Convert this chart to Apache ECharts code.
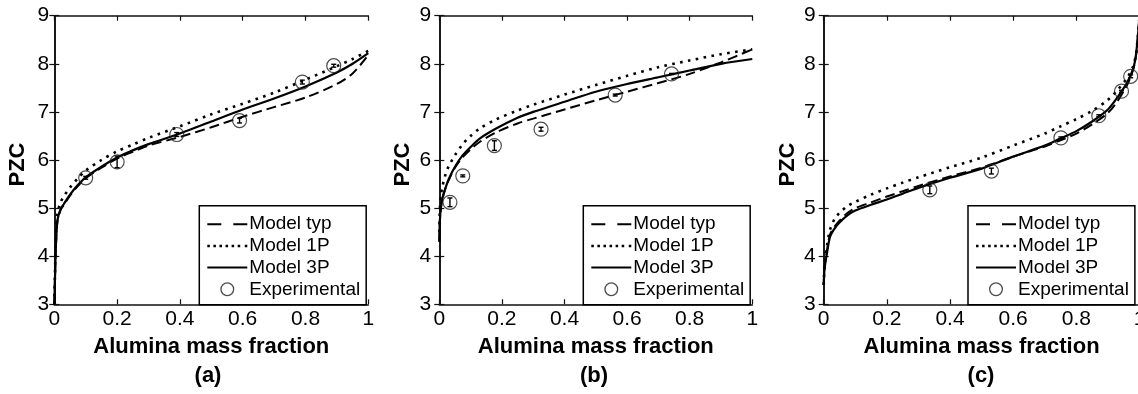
<!DOCTYPE html>
<html><head><meta charset="utf-8">
<script src="https://cdn.jsdelivr.net/npm/echarts@6/dist/echarts.min.js"></script>
<style>html,body{margin:0;padding:0;background:#fff}#c{width:1138px;height:394px}</style>
</head><body><div id="c"></div>
<script>
// ---------- DATA ----------
const xTickInterval = 0.2;
const yMin = 3, yMax = 9;
const panelLabels = ['(a)', '(b)', '(c)'];
const seriesNames = ['Model typ', 'Model 1P', 'Model 3P', 'Experimental'];

// Panel (a)
const a_x   = [0, 0.002, 0.005, 0.01, 0.02, 0.03, 0.05, 0.075, 0.1, 0.15, 0.2, 0.25, 0.3, 0.4, 0.5, 0.6, 0.7, 0.8, 0.9, 0.95, 1.0];
const a_typ = [3.0, 3.5, 4.2, 4.72, 4.96, 5.06, 5.26, 5.46, 5.62, 5.84, 6.03, 6.17, 6.3, 6.48, 6.68, 6.9, 7.1, 7.3, 7.58, 7.8, 8.18];
const a_1p  = [3.0, 3.6, 4.35, 4.88, 5.12, 5.24, 5.43, 5.62, 5.78, 6.0, 6.18, 6.32, 6.46, 6.7, 6.95, 7.17, 7.4, 7.67, 7.95, 8.1, 8.27];
const a_3p  = [3.0, 3.5, 4.2, 4.75, 4.98, 5.08, 5.28, 5.48, 5.64, 5.86, 6.05, 6.2, 6.33, 6.55, 6.8, 7.05, 7.28, 7.53, 7.82, 8.0, 8.22];
const a_expX = [0.1, 0.2, 0.39, 0.59, 0.79, 0.89];
const a_expY = [5.63, 5.96, 6.53, 6.82, 7.62, 7.96];
const a_expE = [0.03, 0.12, 0.04, 0.05, 0.04, 0.03];

// Panel (b)
const b_x   = [0, 0.002, 0.005, 0.01, 0.02, 0.03, 0.05, 0.075, 0.1, 0.13, 0.18, 0.25, 0.3, 0.4, 0.5, 0.6, 0.7, 0.8, 0.9, 1.0];
const b_typ = [4.3, 4.75, 5.0, 5.2, 5.42, 5.58, 5.84, 6.06, 6.22, 6.38, 6.57, 6.76, 6.86, 7.05, 7.24, 7.42, 7.6, 7.79, 8.03, 8.3];
const b_1p  = [4.5, 5.0, 5.25, 5.45, 5.7, 5.87, 6.1, 6.33, 6.5, 6.66, 6.84, 7.03, 7.15, 7.36, 7.56, 7.75, 7.93, 8.07, 8.2, 8.3];
const b_3p  = [4.3, 4.75, 5.0, 5.2, 5.42, 5.6, 5.86, 6.1, 6.27, 6.45, 6.65, 6.88, 7.0, 7.21, 7.42, 7.58, 7.72, 7.86, 8.0, 8.1];
const b_expX = [0.034, 0.075, 0.176, 0.325, 0.562, 0.742];
const b_expY = [5.12, 5.67, 6.3, 6.64, 7.35, 7.79];
const b_expE = [0.09, 0.02, 0.1, 0.04, 0.02, 0.01];

// Panel (c)
const c_x   = [0, 0.003, 0.01, 0.02, 0.035, 0.05, 0.075, 0.1, 0.15, 0.2, 0.25, 0.3, 0.4, 0.5, 0.6, 0.7, 0.75, 0.8, 0.85, 0.9, 0.93, 0.96, 0.98, 0.99, 1.0];
const c_typ = [3.4, 3.78, 4.1, 4.45, 4.62, 4.74, 4.9, 5.0, 5.12, 5.24, 5.35, 5.46, 5.66, 5.84, 6.07, 6.28, 6.41, 6.55, 6.74, 6.98, 7.22, 7.55, 7.88, 8.22, 9.0];
const c_1p  = [3.4, 3.85, 4.2, 4.55, 4.78, 4.9, 5.04, 5.13, 5.28, 5.41, 5.53, 5.64, 5.85, 6.05, 6.3, 6.55, 6.7, 6.85, 7.02, 7.25, 7.45, 7.7, 7.95, 8.25, 9.0];
const c_3p  = [3.4, 3.75, 4.05, 4.4, 4.58, 4.7, 4.85, 4.95, 5.07, 5.18, 5.3, 5.42, 5.63, 5.82, 6.07, 6.3, 6.45, 6.6, 6.8, 7.05, 7.3, 7.6, 7.9, 8.25, 9.0];
const c_expX = [0.336, 0.531, 0.751, 0.871, 0.943, 0.972];
const c_expY = [5.38, 5.77, 6.46, 6.92, 7.43, 7.74];
const c_expE = [0.08, 0.06, 0.02, 0.02, 0.02, 0.03];

// ---------- LAYOUT / STYLE ----------
const panels = [
  {x: a_x, typ: a_typ, p1: a_1p, p3: a_3p, ex: a_expX, ey: a_expY, ee: a_expE,
   grid: {left: 54.3, width: 314}, labelMargin: 5, legendLeft: 199.3, titleX: 208},
  {x: b_x, typ: b_typ, p1: b_1p, p3: b_3p, ex: b_expX, ey: b_expY, ee: b_expE,
   grid: {left: 439.3, width: 313}, labelMargin: 8, legendLeft: 583.3, titleX: 594},
  {x: c_x, typ: c_typ, p1: c_1p, p3: c_3p, ex: c_expX, ey: c_expY, ee: c_expE,
   grid: {left: 823.7, width: 315.8}, labelMargin: 8, legendLeft: 968, titleX: 981}
];
const FONT = 'Liberation Sans, Arial, sans-serif';
const gridTop = 15.7, gridHeight = 288.6;
const axisLine = {show: true, lineStyle: {color: '#111', width: 1.6}};
const tick = {show: true, inside: true, length: 5, lineStyle: {color: '#111', width: 1.2}};

// legend icons (style only)
const iconDash = 'path://M0,0h14v2h-14z M26,0h14v2h-14z';
const iconDot = 'path://' + [0, 6, 12, 18, 24, 30, 37].map(d => 'M' + d + ',0h2.5v2.5h-2.5z').join(' ');
const iconSolid = 'path://M0,0h40v2h-40z';
const iconRing = 'path://M0,7a7,7 0 1,0 14,0a7,7 0 1,0 -14,0z M1.3,7a5.7,5.7 0 1,1 11.4,0a5.7,5.7 0 1,1 -11.4,0z';
const legendIcons = [iconDash, iconDot, iconSolid, iconRing];

const zip = (xs, ys) => xs.map((v, i) => [v, ys[i]]);

const option = {
  animation: false,
  backgroundColor: '#fff',
  grid: [], xAxis: [], yAxis: [], series: [], legend: [], title: []
};

panels.forEach((p, i) => {
  option.grid.push({left: p.grid.left, width: p.grid.width, top: gridTop, height: gridHeight,
    containLabel: false, outerBoundsMode: 'none'});
  const xBase = {type: 'value', gridIndex: i, min: 0, max: 1, interval: xTickInterval, splitLine: {show: false}, axisLine, axisTick: tick};
  const yBase = {type: 'value', gridIndex: i, min: yMin, max: yMax, interval: 1, splitLine: {show: false}, axisLine, axisTick: tick};
  option.xAxis.push(Object.assign({}, xBase, {
    position: 'bottom',
    axisLabel: {show: true, margin: 4, color: '#000', fontSize: 21, fontFamily: FONT, showMaxLabel: true, showMinLabel: true},
    name: 'Alumina mass fraction', nameLocation: 'middle', nameGap: 32,
    nameTextStyle: {fontSize: 22, fontWeight: 'bold', color: '#000', fontFamily: FONT}
  }));
  option.xAxis.push(Object.assign({}, xBase, {position: 'top', axisLabel: {show: false}}));
  option.yAxis.push(Object.assign({}, yBase, {
    position: 'left',
    axisLabel: {show: true, margin: p.labelMargin, color: '#000', fontSize: 21, fontFamily: FONT, padding: [0, 0, 6, 0]},
    name: 'PZC', nameLocation: 'middle', nameGap: 25,
    nameTextStyle: {fontSize: 22, fontWeight: 'bold', color: '#000', fontFamily: FONT, padding: [0, 9, 0, 0]}
  }));
  option.yAxis.push(Object.assign({}, yBase, {position: 'right', axisLabel: {show: false}}));

  const xi = 2 * i, yi = 2 * i;
  const lineCommon = {type: 'line', xAxisIndex: xi, yAxisIndex: yi, symbol: 'none', smooth: 0.3, z: 3};
  option.series.push(Object.assign({}, lineCommon, {name: seriesNames[0], data: zip(p.x, p.typ),
    lineStyle: {color: '#000', width: 2, type: [10, 5]}, itemStyle: {color: '#000'}}));
  option.series.push(Object.assign({}, lineCommon, {name: seriesNames[1], data: zip(p.x, p.p1),
    lineStyle: {color: '#000', width: 2.6, type: [2.6, 5.4]}, itemStyle: {color: '#000'}}));
  option.series.push(Object.assign({}, lineCommon, {name: seriesNames[2], data: zip(p.x, p.p3),
    lineStyle: {color: '#000', width: 2.2, type: 'solid'}, itemStyle: {color: '#000'}}));
  option.series.push({type: 'scatter', name: seriesNames[3], xAxisIndex: xi, yAxisIndex: yi,
    symbol: 'circle', symbolSize: 14, data: zip(p.ex, p.ey), z: 4,
    itemStyle: {color: 'rgba(255,255,255,0)', borderColor: '#222', borderWidth: 1.2}});
  option.series.push({type: 'custom', name: 'errbar' + i, xAxisIndex: xi, yAxisIndex: yi, z: 5,
    data: p.ex.map((v, k) => [v, p.ey[k], p.ee[k]]),
    encode: {x: 0, y: 1},
    renderItem: (params, api) => {
      const x = api.value(0), y = api.value(1), e = api.value(2);
      const t = api.coord([x, y + e]), b = api.coord([x, y - e]);
      const w = 2.5, st = {stroke: '#000', lineWidth: 1.4};
      return {type: 'group', children: [
        {type: 'line', shape: {x1: t[0], y1: t[1], x2: b[0], y2: b[1]}, style: st},
        {type: 'line', shape: {x1: t[0] - w, y1: t[1], x2: t[0] + w, y2: t[1]}, style: st},
        {type: 'line', shape: {x1: b[0] - w, y1: b[1], x2: b[0] + w, y2: b[1]}, style: st}
      ]};
    }});

  const legendData = seriesNames.map((n, k) => ({name: n, icon: legendIcons[k],
    itemStyle: {color: k === 3 ? '#222' : '#000', borderWidth: 0}}));
  option.legend.push({
    data: legendData,
    orient: 'vertical', left: p.legendLeft, top: 205.7,
    padding: [9, 6, 6, 8], itemWidth: 40, itemHeight: 14, itemGap: 2.7,
    backgroundColor: '#fff', borderColor: '#000', borderWidth: 1.5, borderRadius: 0,
    selectedMode: false,
    textStyle: {fontSize: 19, color: '#000', fontFamily: FONT, padding: [0, 0, 0, -3]}
  });
  option.title.push({text: panelLabels[i], left: p.titleX, top: 365, textAlign: 'center', padding: 0,
    textStyle: {fontSize: 22, fontWeight: 'bold', color: '#000', fontFamily: FONT}});
});

const chart = echarts.init(document.getElementById('c'), null, {renderer: 'canvas'});
chart.setOption(option);
</script></body></html>
